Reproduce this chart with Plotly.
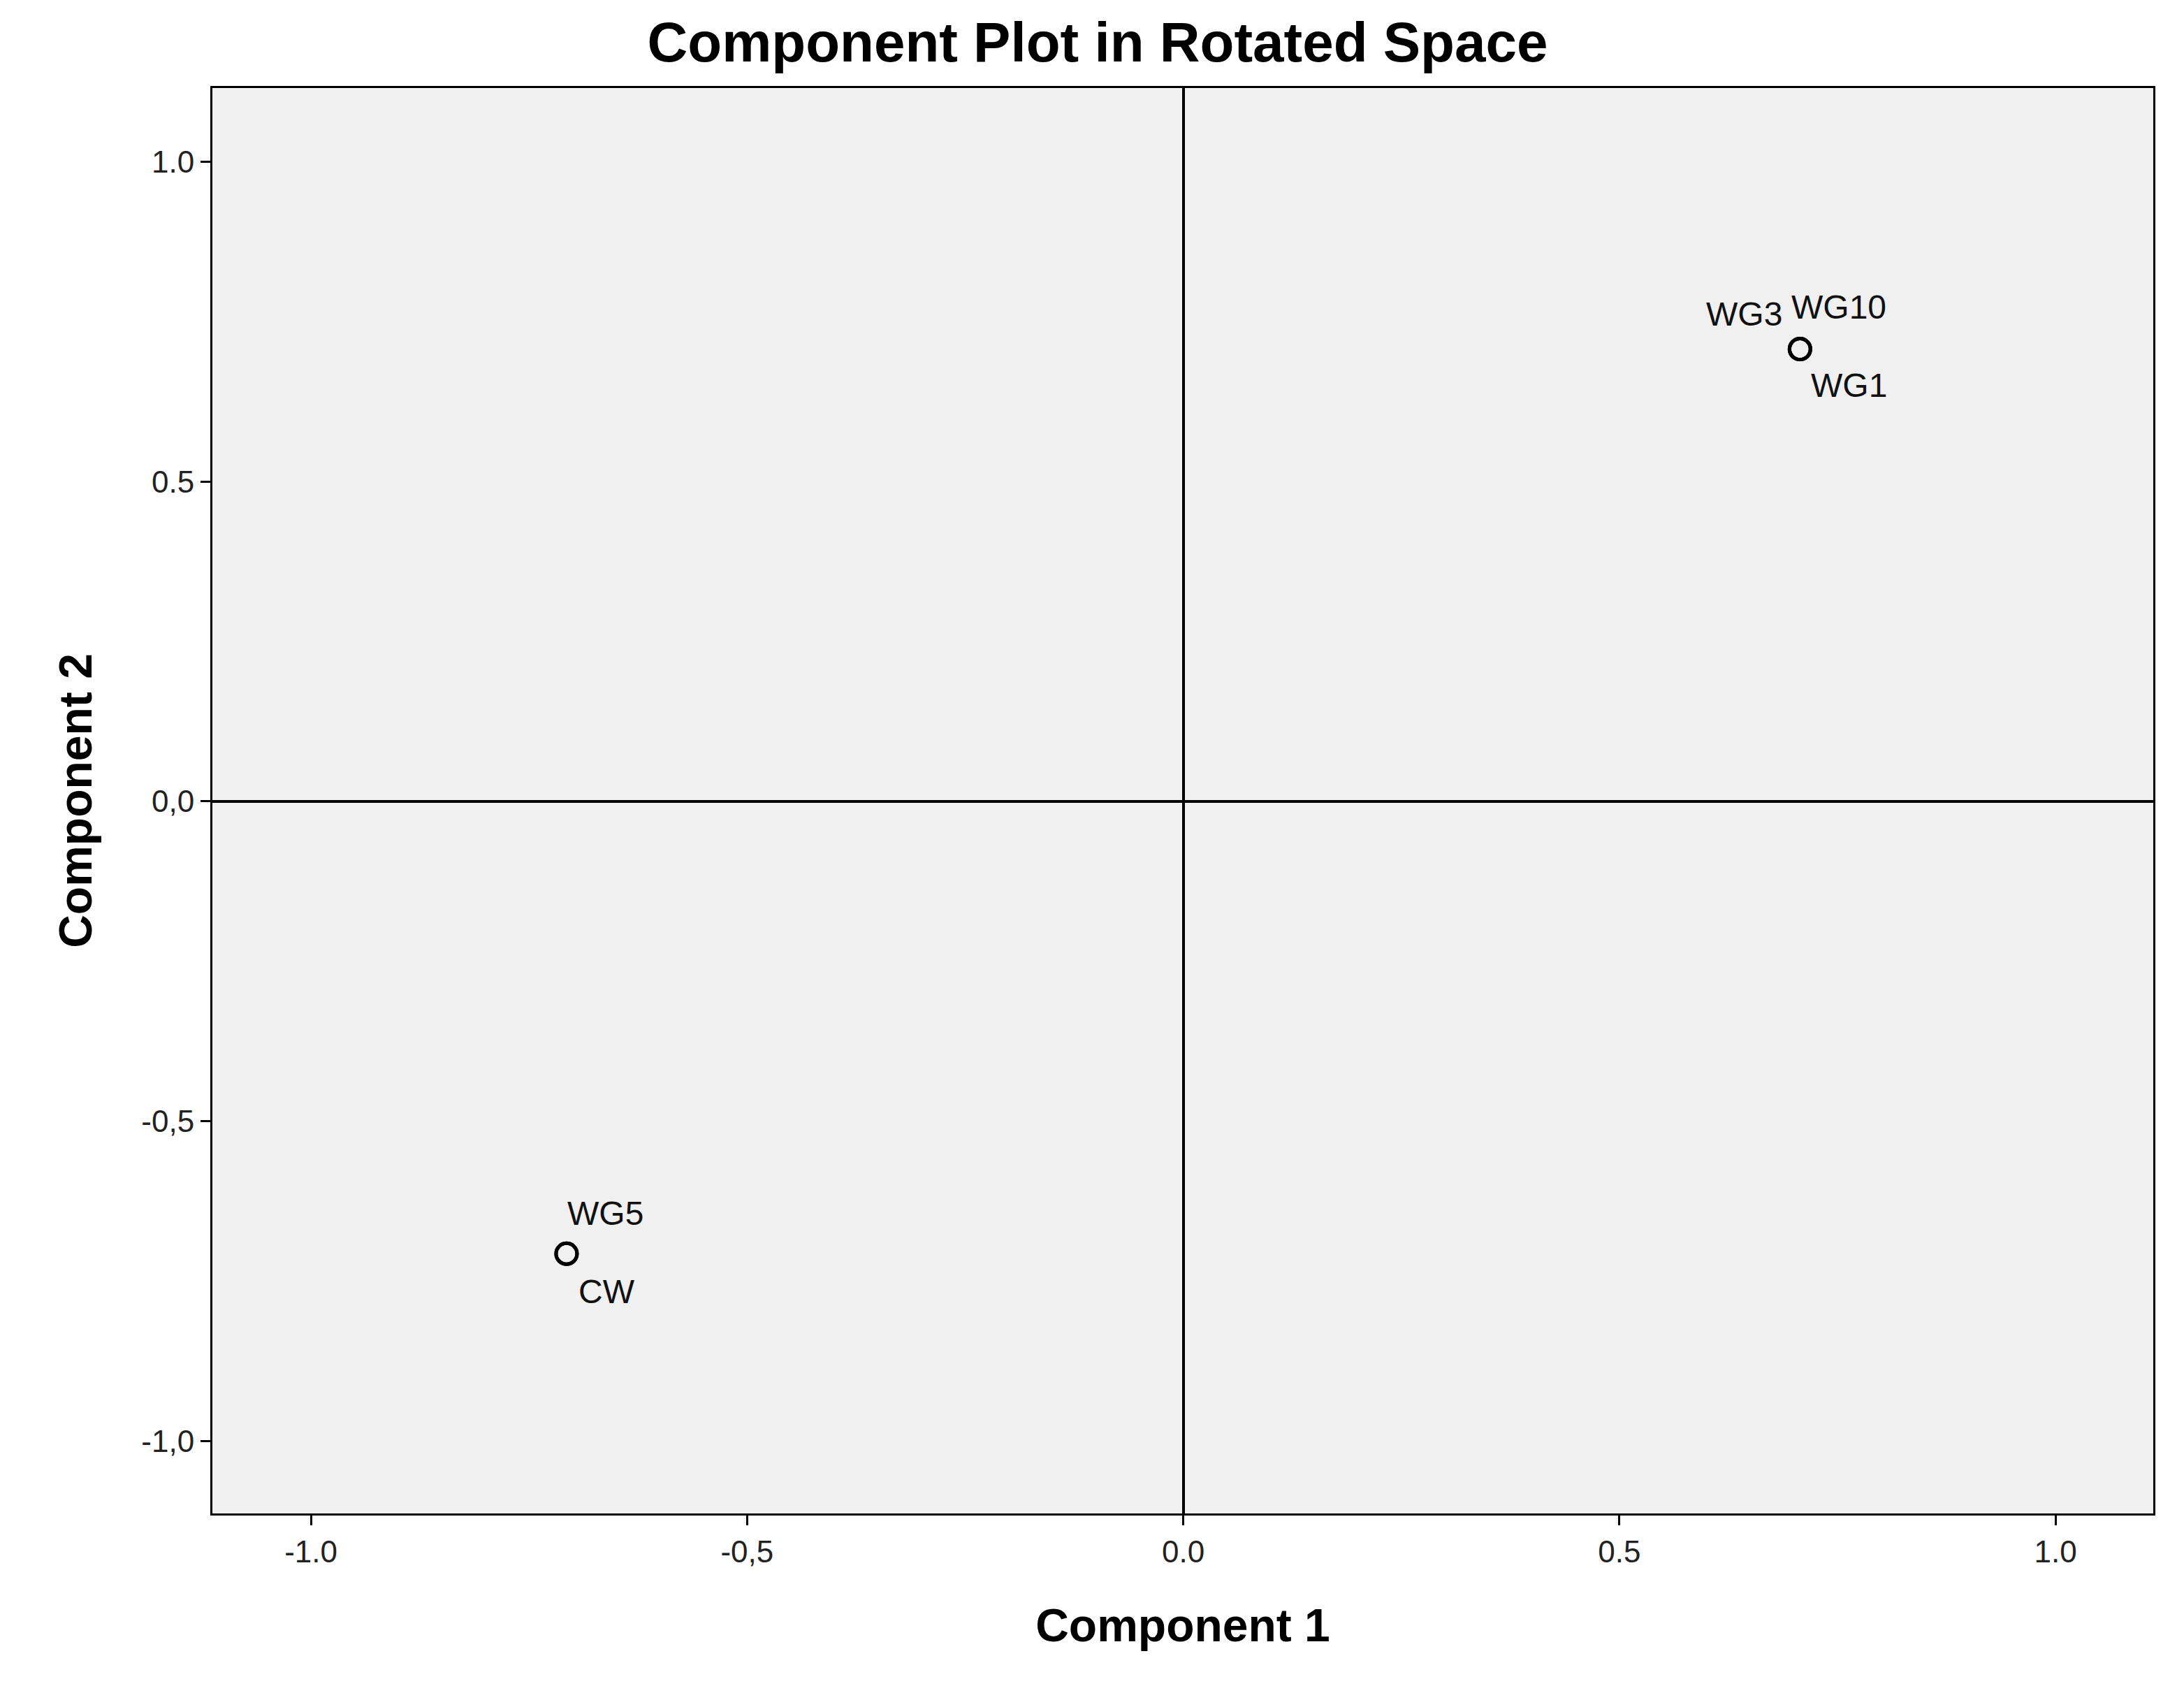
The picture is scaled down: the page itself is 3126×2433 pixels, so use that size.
import plotly.graph_objects as go

# loadings (component 1, component 2)
comp1 = [0.707, 0.707, 0.707, -0.707, -0.707]
comp2 = [0.707, 0.707, 0.707, -0.707, -0.707]
labels = ["WG3", "WG10", "WG1", "WG5", "CW"]
# label placement around the marker (pixel offsets)
shift_x = [-80, 56, 70, 56, 58]
shift_y = [50, 60, -52, 58, -54]

tick_vals = [-1.0, -0.5, 0.0, 0.5, 1.0]
x_tick_text = ["-1.0", "-0,5", "0.0", "0.5", "1.0"]
y_tick_text = ["-1,0", "-0,5", "0,0", "0.5", "1.0"]

fig = go.Figure()
fig.add_trace(go.Scatter(
    x=comp1, y=comp2, mode="markers",
    marker=dict(symbol="circle-open", size=30, color="black", line=dict(width=5)),
    showlegend=False))

for x, y, t, dx, dy in zip(comp1, comp2, labels, shift_x, shift_y):
    fig.add_annotation(x=x, y=y, text=t, showarrow=False, xshift=dx, yshift=dy,
                       font=dict(family="Liberation Sans, Arial", size=48, color="#111"))

fig.update_layout(
    width=3126, height=2433,
    margin=dict(l=296, r=52, t=118, b=275),
    paper_bgcolor="white", plot_bgcolor="#f0f0f0",
    title=dict(text="<b>Component Plot in Rotated Space</b>", x=0.5, xanchor="center",
               y=0.99, yanchor="top",
               font=dict(family="Liberation Sans, Arial", size=80, color="black")),
    font=dict(family="Liberation Sans, Arial", size=44, color="#222"),
)
common = dict(showgrid=False, zeroline=True, zerolinecolor="black", zerolinewidth=4,
              showline=True, linecolor="black", linewidth=3, mirror=True,
              ticks="outside", ticklen=14, tickwidth=3, tickcolor="black",
              tickvals=tick_vals)
fig.update_xaxes(range=[-1.113, 1.112], ticktext=x_tick_text,
                 title=dict(text="<b>Component 1</b>", font=dict(size=66, color="black"), standoff=60),
                 **common)
fig.update_yaxes(range=[-1.113, 1.115], ticktext=y_tick_text,
                 title=dict(text="<b>Component 2</b>", font=dict(size=66, color="black"), standoff=50),
                 **common)

fig.write_html("out.html")
